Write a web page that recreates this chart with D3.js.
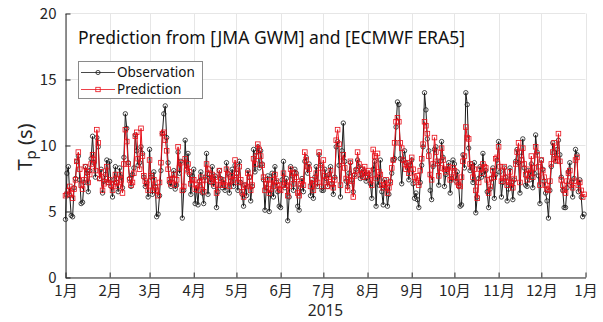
<!DOCTYPE html>
<html><head><meta charset="utf-8">
<script src="https://cdn.jsdelivr.net/npm/d3@7"></script>
<style>body{margin:0;background:#fff}svg{display:block}</style>
</head><body>
<script>
// Observed Tp (s), daily, by month of 2015
const obsJan=[4.4,7.9,8.4,6.2,4.7,4.6,6.8,7.5,8.8,9.2,7.4,5.6,5.7,7.2,8.4,7.9,6.5,8.1,9.0,10.7,8.7,7.6,10.6,9.9,7.5,8.2,6.4,7.3,7.8,8.9,7.2];
const obsFeb=[8.8,6.9,6.1,7.4,8.4,7.2,6.5,8.3,7.6,6.8,9.1,12.4,11.3,8.7,7.5,6.9,7.8,8.3,10.8,9.6,8.5,8.7,9.9,9.4,7.6,6.9,7.2,6.1];
const obsMar=[9.7,7.6,6.3,8.0,6.9,4.6,4.8,6.2,8.1,10.9,12.4,13.0,10.6,8.7,7.2,6.9,7.5,8.1,6.7,7.0,9.5,7.9,8.8,4.5,6.6,10.4,8.2,9.4,7.8,6.3,7.7];
const obsApr=[8.2,5.6,6.8,5.5,7.3,8.0,6.4,5.6,7.6,9.4,6.3,7.8,7.2,8.4,6.9,7.7,5.3,6.5,8.1,7.5,6.8,7.4,6.6,8.7,7.9,6.4,7.3,8.2,6.9,8.5];
const obsMay=[7.9,6.6,8.8,7.2,6.3,5.4,7.0,6.2,8.1,7.6,5.8,6.9,9.7,8.0,9.5,9.9,8.3,9.6,8.6,7.4,5.1,6.8,7.7,5.0,6.3,7.9,6.1,8.4,7.2,6.5,5.4];
const obsJun=[5.3,7.4,8.8,6.8,7.5,4.3,6.1,8.4,7.7,6.6,8.2,7.9,5.4,5.1,6.8,7.5,6.5,8.8,9.1,7.9,8.6,6.2,7.2,6.0,7.6,8.4,6.9,9.3,8.5,6.6];
const obsJul=[6.6,8.2,7.5,6.9,7.8,8.4,7.1,6.3,7.6,9.9,10.3,8.5,6.1,9.6,11.7,8.8,7.3,6.9,7.9,8.7,7.4,6.5,7.8,8.2,8.9,8.4,7.5,8.2,7.6,8.0,7.3];
const obsAug=[7.6,7.8,7.1,6.0,8.2,8.8,5.4,7.6,7.0,8.9,6.5,5.5,7.4,6.8,5.4,6.3,7.3,7.9,8.9,9.0,11.4,13.3,13.1,9.0,7.1,8.9,9.6,8.7,8.3,7.4,8.5];
const obsSep=[8.9,7.1,6.0,6.4,5.9,5.3,7.2,8.5,9.9,14.0,12.7,10.5,9.6,6.6,5.9,8.4,9.7,9.9,8.6,7.0,8.8,10.3,9.1,6.9,7.8,8.2,8.7,6.4,7.5,8.9];
const obsOct=[8.6,7.3,8.0,6.9,5.4,5.5,9.3,8.3,14.0,13.1,9.8,8.1,8.6,7.2,8.7,4.9,6.1,7.5,8.4,7.6,9.4,7.8,8.1,6.5,5.3,6.7,7.5,8.3,6.0,7.8,8.9];
const obsNov=[10.3,8.0,6.1,7.2,8.3,7.6,5.8,6.7,8.3,7.0,5.9,7.4,8.8,9.7,8.7,6.4,9.2,10.5,8.3,7.0,6.9,8.1,7.4,8.6,6.8,7.9,10.8,9.5,7.7,5.6];
const obsDec=[8.9,8.2,7.3,6.4,5.8,4.5,6.6,8.4,10.2,9.5,8.8,9.7,10.4,9.3,7.6,6.6,5.3,5.3,6.8,8.0,8.7,7.2,6.1,7.5,9.7,9.3,6.5,7.4,6.1,4.6,4.8];
// Predicted Tp (s)
const preJan=[6.2,6.3,6.6,6.9,6.4,6.0,6.7,7.4,8.8,9.5,8.2,7.0,6.7,7.4,8.4,8.0,7.2,7.8,8.6,9.3,8.9,8.1,11.2,10.2,7.5,8.0,6.6,7.1,7.6,8.4,7.2];
const preFeb=[7.4,7.0,6.6,7.1,7.8,7.2,6.9,7.8,7.4,6.4,8.6,11.2,10.3,8.6,7.4,7.0,7.2,7.9,10.7,11.0,9.0,8.2,11.3,9.2,7.7,7.3,7.1,6.6];
const preMar=[8.9,7.7,6.6,7.4,6.8,6.6,6.2,7.2,8.7,10.9,11.0,10.4,9.6,8.2,7.4,7.1,7.5,7.8,7.0,7.4,9.9,8.3,8.7,6.6,6.9,9.0,8.1,8.6,8.0,7.1,7.4];
const preApr=[7.4,6.7,7.0,6.6,7.2,7.6,7.0,6.5,7.4,8.6,8.2,7.9,7.3,7.8,7.1,7.6,6.4,7.0,8.1,7.4,7.0,7.2,7.0,8.2,7.8,6.9,7.3,7.7,7.4,8.9];
const preMay=[7.9,7.2,8.4,7.4,6.5,6.1,7.0,6.9,7.9,7.6,6.6,7.0,9.0,8.6,9.2,10.1,9.7,9.2,8.5,7.6,6.6,7.1,7.4,6.4,6.7,7.4,6.9,7.8,7.3,7.0,6.7];
const preJun=[6.6,7.0,7.9,7.2,7.0,6.2,6.9,8.2,7.9,7.1,7.9,7.6,6.4,6.2,7.1,7.3,7.0,9.5,8.9,8.4,8.2,6.9,7.4,6.6,7.1,7.9,7.2,9.5,8.3,6.9];
const preJul=[8.9,7.7,7.4,6.9,7.6,8.1,7.1,6.8,7.4,10.4,11.2,10.1,7.0,8.8,9.3,8.3,7.5,6.6,7.4,8.8,7.3,6.1,7.7,8.1,9.5,8.6,7.8,8.2,7.6,8.4,7.7];
const preAug=[7.9,8.1,7.4,7.0,9.7,9.2,7.5,9.4,8.0,7.8,7.0,6.8,7.0,7.4,6.4,6.8,7.2,8.3,8.9,10.2,11.8,12.1,11.8,10.2,9.8,8.9,8.6,8.2,8.7,7.9,8.5];
const preSep=[9.1,8.2,7.6,7.2,7.7,7.0,8.1,9.0,10.1,11.8,11.5,10.9,9.2,7.8,7.4,8.6,10.6,9.5,8.8,7.7,8.3,9.8,8.9,8.2,8.0,8.2,8.4,7.4,7.6,8.3];
const preOct=[8.1,7.6,7.2,7.0,6.9,7.6,8.8,9.2,11.4,10.6,10.5,8.6,8.4,7.6,8.2,6.6,6.0,7.2,8.2,7.9,8.6,8.4,8.3,7.4,6.4,6.9,7.5,8.1,7.6,9.0,9.1];
const preNov=[9.9,8.4,7.3,7.5,8.4,7.6,7.0,7.2,8.0,7.2,6.8,7.5,8.6,9.5,10.2,7.2,8.9,9.8,8.6,7.8,7.4,8.2,7.9,9.2,7.6,8.3,9.9,9.3,8.4,7.0];
const preDec=[8.9,8.1,7.6,7.0,6.7,6.6,7.3,8.6,9.5,10.2,9.0,8.9,10.9,8.8,7.4,7.0,6.6,6.4,7.3,7.9,8.1,7.0,6.8,7.3,8.9,9.1,7.0,7.2,6.6,6.1,6.3];

const monthLabels=["1月","2月","3月","4月","5月","6月","7月","8月","9月","10月","11月","12月","1月"];
const yTicks=[0,5,10,15,20];
const titleText="Prediction from [JMA GWM] and [ECMWF ERA5]";
const seriesNames=["Observation","Prediction"];
const yearLabel="2015";

const obsMonths=[obsJan,obsFeb,obsMar,obsApr,obsMay,obsJun,obsJul,obsAug,obsSep,obsOct,obsNov,obsDec];
const preMonths=[preJan,preFeb,preMar,preApr,preMay,preJun,preJul,preAug,preSep,preOct,preNov,preDec];
function toSeries(months){
  const out=[];
  months.forEach((arr,m)=>arr.forEach((v,i)=>out.push({date:new Date(2015,m,i+1),v})));
  return out;
}
const obs=toSeries(obsMonths), pre=toSeries(preMonths);

const W=603,H=322;
const svg=d3.select("body").append("svg").attr("width",W).attr("height",H);
const x=d3.scaleTime().domain([new Date(2015,0,1),new Date(2016,0,1)]).range([65.5,585.5]);
const y=d3.scaleLinear().domain([0,20]).range([277.5,13.5]);
const axisCol="#262626";
const tickDates=d3.range(13).map(m=>new Date(2015,m,1));

// grid
const g=svg.append("g");
g.selectAll(".gx").data(tickDates).join("line")
  .attr("x1",d=>Math.round(x(d))+0.5).attr("x2",d=>Math.round(x(d))+0.5)
  .attr("y1",y(0)).attr("y2",y(20)).attr("stroke","#e6e6e6").attr("stroke-width",1);
g.selectAll(".gy").data(yTicks).join("line")
  .attr("x1",x.range()[0]).attr("x2",x.range()[1])
  .attr("y1",d=>y(d)).attr("y2",d=>y(d)).attr("stroke","#e6e6e6").attr("stroke-width",1);

// lines + markers
const line=d3.line().x(d=>x(d.date)).y(d=>y(d.v));
const obsCol="#1a1a1a", preCol="#e8101a";
svg.append("path").datum(obs).attr("d",line).attr("fill","none").attr("stroke",obsCol).attr("stroke-width",1);
svg.append("g").selectAll("circle").data(obs).join("circle")
  .attr("cx",d=>x(d.date)).attr("cy",d=>y(d.v)).attr("r",2.2)
  .attr("fill","none").attr("stroke",obsCol).attr("stroke-width",0.8);
svg.append("path").datum(pre).attr("d",line).attr("fill","none").attr("stroke",preCol).attr("stroke-width",1);
svg.append("g").selectAll("rect").data(pre).join("rect")
  .attr("x",d=>x(d.date)-2.3).attr("y",d=>y(d.v)-2.3).attr("width",4.6).attr("height",4.6)
  .attr("fill","none").attr("stroke",preCol).attr("stroke-width",0.8);

// axes
const xAxis=d3.axisBottom(x).tickValues(tickDates).tickFormat((d,i)=>monthLabels[i]).tickSizeInner(-5).tickSizeOuter(0).tickPadding(8);
const xa=svg.append("g").attr("transform",`translate(0,${y(0)})`).call(xAxis);
xa.select(".domain").attr("stroke",axisCol);
xa.selectAll(".tick line").attr("stroke",axisCol);
xa.selectAll("text").attr("fill",axisCol).style("font-family","'Noto Sans CJK JP'").style("font-size","15px");

const yAxis=d3.axisLeft(y).tickValues(yTicks).tickSizeInner(-5).tickSizeOuter(0).tickPadding(9);
const ya=svg.append("g").attr("transform",`translate(${x.range()[0]},0)`).call(yAxis);
ya.select(".domain").attr("stroke",axisCol);
ya.selectAll(".tick line").attr("stroke",axisCol);
ya.selectAll("text").attr("fill",axisCol).style("font-family","'Noto Sans CJK JP'").style("font-size","15px");

// labels
svg.append("text").attr("x",325.5).attr("y",316).attr("text-anchor","middle")
  .attr("fill",axisCol).style("font-family","'Noto Sans'").style("font-size","15.5px").text(yearLabel);
const yl=svg.append("text").attr("transform","translate(32,147) rotate(-90)").attr("text-anchor","middle")
  .attr("fill",axisCol).style("font-family","'Noto Sans'").style("font-size","20px");
yl.append("tspan").text("T");
yl.append("tspan").attr("dy",4).style("font-size","15px").text("p");
yl.append("tspan").attr("dy",-4).text(" (s)");

svg.append("text").attr("x",78).attr("y",44).attr("fill","#111")
  .style("font-family","'Noto Sans'").style("font-size","17.5px").text(titleText);

// legend
const lg=svg.append("g");
lg.append("rect").attr("x",78.5).attr("y",61.5).attr("width",124).attr("height",37)
  .attr("fill","#fff").attr("stroke","#8a8a8a").attr("stroke-width",1);
const cols=[obsCol,preCol];
seriesNames.forEach((n,i)=>{
  const cy=72.5+i*17;
  lg.append("line").attr("x1",81).attr("x2",115).attr("y1",cy).attr("y2",cy).attr("stroke",cols[i]).attr("stroke-width",0.8);
  if(i===0) lg.append("circle").attr("cx",98).attr("cy",cy).attr("r",2.1).attr("fill","none").attr("stroke",cols[i]).attr("stroke-width",0.8);
  else lg.append("rect").attr("x",95.8).attr("y",cy-2.2).attr("width",4.4).attr("height",4.4).attr("fill","none").attr("stroke",cols[i]).attr("stroke-width",0.8);
  lg.append("text").attr("x",117).attr("y",cy+4.5).attr("fill","#111")
    .style("font-family","'Noto Sans'").style("font-size","13.5px").text(n);
});
</script>
</body></html>
